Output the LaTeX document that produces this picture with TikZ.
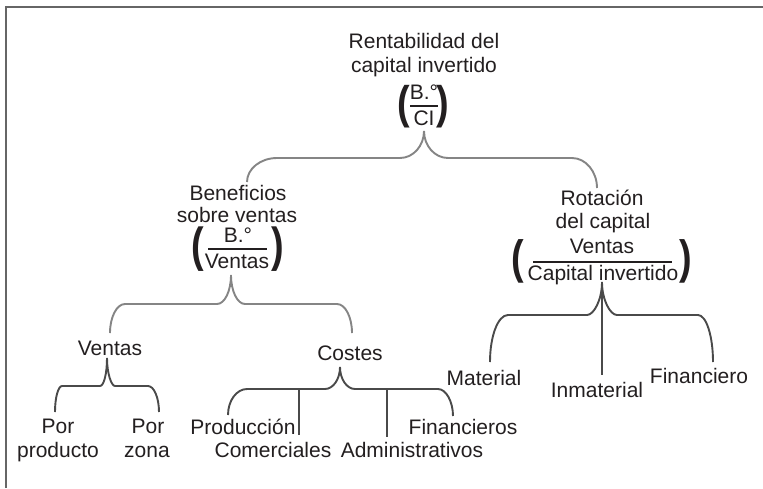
\documentclass[tikz,border=0pt]{standalone}
\usepackage{fontspec}
\usepackage{graphicx}
\setmainfont{Liberation Sans}
\definecolor{textc}{HTML}{231F20}
\definecolor{lightbr}{HTML}{858585}
\definecolor{darkbr}{HTML}{4A4A4A}
\definecolor{framec}{HTML}{666666}
\tikzset{
  txt/.style={anchor=base, inner sep=0pt, text=textc, font=\fontsize{21}{24}\selectfont},
  parbox/.style={anchor=center, inner sep=0pt, text=textc, font=\fontsize{21}{24}\selectfont\bfseries},
  fracbar/.style={line width=1.3pt, draw=textc},
  bracel/.style={line width=1.9pt, draw=lightbr},
  braced/.style={line width=1.9pt, draw=darkbr},
  framel/.style={line width=2pt, draw=framec}
}
\begin{document}
\begin{tikzpicture}[x=1pt,y=-1pt]
\useasboundingbox (0,0) rectangle (763,488);
\fill[white] (0,0) rectangle (763,488);
% frame (top and left only)
\coordinate (fbl) at (6,488);
\coordinate (ftl) at (6,7);
\coordinate (ftr) at (763,7);
\draw[framel] (fbl) -- (ftl) -- (ftr);

% ---------- root ----------
\node[txt] (rent1) at (424,48) {Rentabilidad del};
\node[txt] (rent2) at (424,72) {capital invertido};
\node[txt] (rnum) at (424,99) {B.°};
\node[txt] (rden) at (424,125) {CI};
\coordinate (rbarl) at (410,106);
\coordinate (rbarr) at (438,106);
\draw[fracbar] (rbarl) -- (rbarr);
\node[parbox] (rpl) at (404,106.5) {\scalebox{1.8}[2.18]{(}};
\node[parbox] (rpr) at (443,106.5) {\scalebox{1.8}[2.18]{)}};

% ---------- Beneficios ----------
\node[txt] (ben1) at (238,200) {Beneficios};
\node[txt] (ben2) at (237,222) {sobre ventas};
\node[txt] (bnum) at (238,242) {B.°};
\node[txt] (bden) at (237,268) {Ventas};
\coordinate (bbarl) at (208,249);
\coordinate (bbarr) at (267,249);
\draw[fracbar] (bbarl) -- (bbarr);
\node[parbox] (bpl) at (197.5,249.5) {\scalebox{1.8}[2.28]{(}};
\node[parbox] (bpr) at (277.5,249.5) {\scalebox{1.8}[2.28]{)}};

% ---------- Rotacion ----------
\node[txt] (rot1) at (602,205) {Rotación};
\node[txt] (rot2) at (603,228) {del capital};
\node[txt] (onum) at (602,253) {Ventas};
\node[txt] (oden) at (603,280) {Capital invertido};
\coordinate (obarl) at (533,262);
\coordinate (obarr) at (672,262);
\draw[fracbar] (obarl) -- (obarr);
\node[parbox] (opl) at (518,261) {\scalebox{1.8}[2.23]{(}};
\node[parbox] (opr) at (686,261) {\scalebox{1.8}[2.23]{)}};

% ---------- leaves ----------
\node[txt] (ven) at (110,355) {Ventas};
\node[txt] (pp1) at (58,433) {Por};
\node[txt] (pp2) at (58,457) {producto};
\node[txt] (pz1) at (148,433) {Por};
\node[txt] (pz2) at (147,457) {zona};
\node[txt] (cos) at (350,360) {Costes};
\node[txt] (prod) at (243,434) {Producción};
\node[txt] (com) at (273,457) {Comerciales};
\node[txt] (adm) at (412,457) {Administrativos};
\node[txt] (fins) at (463,434) {Financieros};
\node[txt] (mat) at (484,385) {Material};
\node[txt] (inm) at (597,397) {Inmaterial};
\node[txt] (fin) at (699,383) {Financiero};

% ---------- braces ----------
% root brace
\coordinate (rc) at (424,131);
\coordinate (rhl) at (400,158);
\coordinate (rhl2) at (277,158);
\coordinate (rel) at (247,182);
\coordinate (rhr) at (448,158);
\coordinate (rhr2) at (572,158);
\coordinate (rer) at (597,188);
\draw[bracel] (rc) .. controls (424,145.9) and (413.2,158) .. (rhl) -- (rhl2)
  .. controls (260.5,158) and (247,168.8) .. (rel);
\draw[bracel] (rc) .. controls (424,145.9) and (434.8,158) .. (rhr) -- (rhr2)
  .. controls (585.75,158) and (597,171.5) .. (rer);

% beneficios brace
\coordinate (bc) at (231,275);
\coordinate (bhl) at (217,304);
\coordinate (bhl2) at (125,304);
\coordinate (bel) at (110,333);
\coordinate (bhr) at (245,304);
\coordinate (bhr2) at (337,304);
\coordinate (ber) at (352,333);
\draw[bracel] (bc) .. controls (231,291) and (224.7,304) .. (bhl) -- (bhl2)
  .. controls (116.75,304) and (110,317) .. (bel);
\draw[bracel] (bc) .. controls (231,291) and (237.3,304) .. (bhr) -- (bhr2)
  .. controls (345.25,304) and (352,317) .. (ber);

% ventas brace
\coordinate (vc) at (107,358);
\coordinate (vhl) at (100,386);
\coordinate (vhl2) at (62,386);
\coordinate (vel) at (55,412);
\coordinate (vhr) at (115,386);
\coordinate (vhr2) at (148,386);
\coordinate (ver) at (159,412);
\draw[braced] (vc) .. controls (107,373.4) and (103.9,386) .. (vhl) -- (vhl2)
  .. controls (58.15,386) and (55,397.7) .. (vel);
\draw[braced] (vc) .. controls (107,373.4) and (111.4,386) .. (vhr) -- (vhr2)
  .. controls (154,386) and (159,397.7) .. (ver);

% costes brace
\coordinate (cc) at (340,367);
\coordinate (chl) at (325,389);
\coordinate (chl2) at (247,389);
\coordinate (cel) at (228,415);
\coordinate (chr) at (355,389);
\coordinate (chr2) at (438,389);
\coordinate (cer) at (453,416);
\coordinate (cv1t) at (299,389);
\coordinate (cv1b) at (299,435);
\coordinate (cv2t) at (387,389);
\coordinate (cv2b) at (387,437);
\draw[braced] (cc) .. controls (340,379) and (333.25,389) .. (chl) -- (chl2)
  .. controls (236.5,389) and (228,400.7) .. (cel);
\draw[braced] (cc) .. controls (340,379) and (346.75,389) .. (chr) -- (chr2)
  .. controls (446.25,389) and (453,401.9) .. (cer);
\draw[braced] (cv1t) -- (cv1b);
\draw[braced] (cv2t) -- (cv2b);

% rotacion brace
\coordinate (oc) at (602,282);
\coordinate (ohl) at (587,315);
\coordinate (ohl2) at (508,315);
\coordinate (oel) at (490,362);
\coordinate (ohr) at (617,315);
\coordinate (ohr2) at (698,315);
\coordinate (oer) at (713,362);
\coordinate (ovb) at (602,375);
\draw[braced] (oc) .. controls (602,300) and (593.75,315) .. (ohl) -- (ohl2)
  .. controls (498,315) and (490,336) .. (oel);
\draw[braced] (oc) .. controls (602,300) and (610.25,315) .. (ohr) -- (ohr2)
  .. controls (706.25,315) and (713,336) .. (oer);
\draw[braced] (oc) -- (ovb);
\end{tikzpicture}
\end{document}
